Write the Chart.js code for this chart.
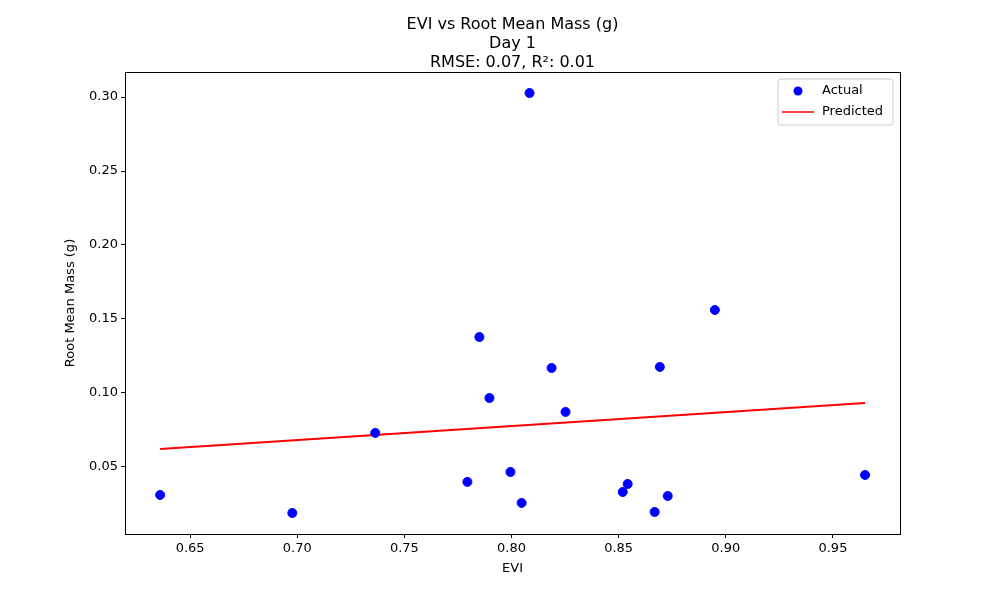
<!DOCTYPE html><html><head><script src="https://cdn.jsdelivr.net/npm/chart.js@4"></script>
<style>body{margin:0;background:#fff}canvas{display:block}</style></head><body>
<div style="width:1000px;height:600px"><canvas id="c" width="1000" height="600"></canvas></div>
<script>
const evi=[0.636,0.6977,0.7364,0.7794,0.785,0.7897,0.7995,0.8047,0.8084,0.8187,0.8252,0.8519,0.8542,0.8668,0.8692,0.8729,0.8949,0.965];
const mass=[0.0311,0.0189,0.0730,0.0399,0.1378,0.0966,0.0466,0.0257,0.3027,0.1169,0.0872,0.0331,0.0385,0.0196,0.1176,0.0304,0.1561,0.0446];
const predX=[0.636,0.965];
const predY=[0.0622,0.0932];
const titleLines=['EVI vs Root Mean Mass (g)','Day 1','RMSE: 0.07, R²: 0.01'];
const xTitle='EVI', yTitle='Root Mean Mass (g)';
const F='"DejaVu Sans", sans-serif';
const deco={id:'deco',afterDraw(ch){const c=ch.ctx,a=ch.chartArea;c.save();
c.strokeStyle='#000';c.lineWidth=1;c.strokeRect(a.left+0.5,a.top+0.5,a.right-a.left,a.bottom-a.top);
c.fillStyle='#000';c.font='16px '+F;c.textAlign='center';c.textBaseline='alphabetic';
titleLines.forEach((t,i)=>c.fillText(t,(a.left+a.right)/2,29+i*19));
c.font='13px '+F;c.textBaseline='middle';
c.fillText(xTitle,(a.left+a.right)/2,569);
c.save();c.translate(71,(a.top+a.bottom)/2);c.rotate(-Math.PI/2);c.fillText(yTitle,0,0);c.restore();
const x0=778,y0=79,w=115,h=46;c.fillStyle='rgba(255,255,255,0.8)';c.strokeStyle='#ccc';
c.beginPath();c.roundRect(x0,y0,w,h,3);c.fill();c.stroke();
c.fillStyle='blue';c.beginPath();c.arc(798,91,4.5,0,Math.PI*2);c.fill();
c.strokeStyle='red';c.lineWidth=1.5;c.beginPath();c.moveTo(782,112);c.lineTo(814,112);c.stroke();
c.fillStyle='#000';c.textAlign='left';
c.fillText('Actual',822,91);c.fillText('Predicted',822,112);c.restore();}};
new Chart(document.getElementById('c'),{type:'scatter',
data:{datasets:[
{label:'Actual',data:evi.map((x,i)=>({x,y:mass[i]})),backgroundColor:'blue',borderColor:'blue',pointRadius:4.5},
{label:'Predicted',type:'line',data:predX.map((x,i)=>({x,y:predY[i]})),borderColor:'red',borderWidth:2,pointRadius:0,showLine:true}]},
plugins:[deco],
options:{responsive:false,animation:false,layout:{padding:{top:72,right:100,left:0,bottom:0}},
plugins:{legend:{display:false},tooltip:{enabled:false}},
scales:{
x:{type:'linear',min:0.6196,max:0.9813,afterBuildTicks(s){s.ticks=[0.65,0.7,0.75,0.8,0.85,0.9,0.95].map(v=>({value:v}));},
afterFit(s){s.height=66;},
ticks:{color:'#000',font:{size:13,family:F},padding:3,callback:v=>v.toFixed(2)},
grid:{drawOnChartArea:false,color:'#000',tickLength:4},border:{color:'#000'}},
y:{min:0.0047,max:0.3169,afterBuildTicks(s){s.ticks=[0.05,0.1,0.15,0.2,0.25,0.3].map(v=>({value:v}));},
afterFit(s){s.width=125;},
ticks:{color:'#000',font:{size:13,family:F},padding:3,callback:v=>v.toFixed(2)},
grid:{drawOnChartArea:false,color:'#000',tickLength:4},border:{color:'#000'}}}}});
</script></body></html>
